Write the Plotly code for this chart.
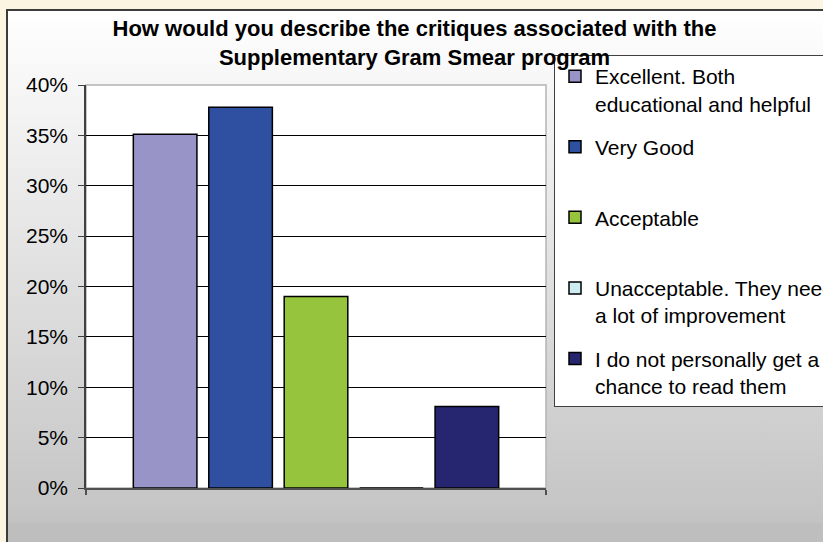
import base64
import plotly.graph_objects as go

# ---- data ----
series_names = [
    "Excellent. Both<br>educational and helpful",
    "Very Good<br> ",
    "Acceptable<br> ",
    "Unacceptable. They need<br>a lot of improvement",
    "I do not personally get a<br>chance to read them",
]
series_values = [0.351, 0.378, 0.19, 0.0, 0.081]
series_colors = ["#9894C8", "#2F50A1", "#96C43C", "#CDEDF2", "#25266F"]
category = [""]
title_lines = ["How would you describe the critiques associated with the",
               "Supplementary Gram Smear program"]
y_ticks = [0, 0.05, 0.10, 0.15, 0.20, 0.25, 0.30, 0.35, 0.40]

W, H = 823, 542
L, R, T, B = 86, 546, 85, 488   # plot area in pixels

def px_x(p):
    return (p - L) / (R - L)

def px_y(p):
    return (B - p) / (B - T)

FONT = "Liberation Sans, Arial, sans-serif"

fig = go.Figure()
for i, (n, v, c) in enumerate(zip(series_names, series_values, series_colors)):
    fig.add_trace(go.Bar(
        x=category, y=[v], name=n, legendgroup=f"g{i}",
        marker=dict(color=c, line=dict(color="#000000", width=1.5)),
        hoverinfo="name+y",
    ))

svg = ('<svg xmlns="http://www.w3.org/2000/svg" width="100" height="100" viewBox="0 0 100 100" '
       'preserveAspectRatio="none"><defs><linearGradient id="g" x1="0" y1="0" x2="0" y2="1">'
       '<stop offset="0" stop-color="#ffffff"/><stop offset="0.894" stop-color="#c6c6c6"/>'
       '<stop offset="0.93" stop-color="#c3c3c3"/><stop offset="0.935" stop-color="#bebebe"/>'
       '<stop offset="1" stop-color="#bebebe"/></linearGradient></defs>'
       '<rect x="0" y="0" width="100" height="100" fill="url(#g)"/></svg>')
src = "data:image/svg+xml;base64," + base64.b64encode(svg.encode()).decode()

fig.update_layout(
    width=W, height=H,
    margin=dict(l=L, r=W - R, t=T, b=H - B, autoexpand=False, pad=0),
    paper_bgcolor="#FCF5E2",
    plot_bgcolor="rgba(0,0,0,0)",
    font=dict(family=FONT, size=21, color="#000000"),
    barmode="group", bargap=0.18, bargroupgap=0.157,
    title=dict(text="<b>" + title_lines[0] + "<br>" + title_lines[1] + "</b>",
               x=px_x(414.5), xref="paper", xanchor="center",
               y=1 - 36 / H, yref="container", yanchor="top",
               font=dict(family=FONT, size=22, color="#000000")),
    showlegend=True,
    legend=dict(x=px_x(554), y=px_y(55), xanchor="left", yanchor="top",
                bgcolor="#FFFFFF", bordercolor="#404040", borderwidth=1,
                font=dict(family=FONT, size=21, color="#000000"),
                valign="top", tracegroupgap=13, traceorder="grouped",
                maxheight=420),
    xaxis=dict(type="category", range=[-0.5, 0.5], showticklabels=False,
               ticks="outside", tickson="boundaries", ticklen=5, tickcolor="#505050",
               tickwidth=1.5, showline=True, linecolor="#505050", linewidth=2,
               showgrid=False, zeroline=False, fixedrange=True),
    yaxis=dict(range=[0, 0.4], tickvals=y_ticks, tickformat=".0%",
               ticks="outside", ticklen=6, tickcolor="#404040", tickwidth=1,
               ticklabelstandoff=6,
               showline=True, linecolor="#404040", linewidth=1.5,
               showgrid=True, gridcolor="#000000", gridwidth=1,
               zeroline=False, fixedrange=True),
    images=[dict(source=src, xref="paper", yref="paper",
                 x=px_x(6), y=px_y(9), sizex=px_x(840) - px_x(6),
                 sizey=px_y(9) - px_y(560), xanchor="left", yanchor="top",
                 sizing="stretch", layer="below")],
    shapes=[
        dict(type="rect", xref="paper", yref="paper", layer="below",
             x0=px_x(7), x1=px_x(840), y0=px_y(560), y1=px_y(10),
             line=dict(color="#3C3C3C", width=2), fillcolor="rgba(0,0,0,0)"),
        dict(type="rect", xref="paper", yref="paper", layer="below",
             x0=0, x1=1, y0=0, y1=1,
             line=dict(color="#B4B4B4", width=1.5), fillcolor="#FFFFFF"),
    ],
)

fig.write_html("out.html")
